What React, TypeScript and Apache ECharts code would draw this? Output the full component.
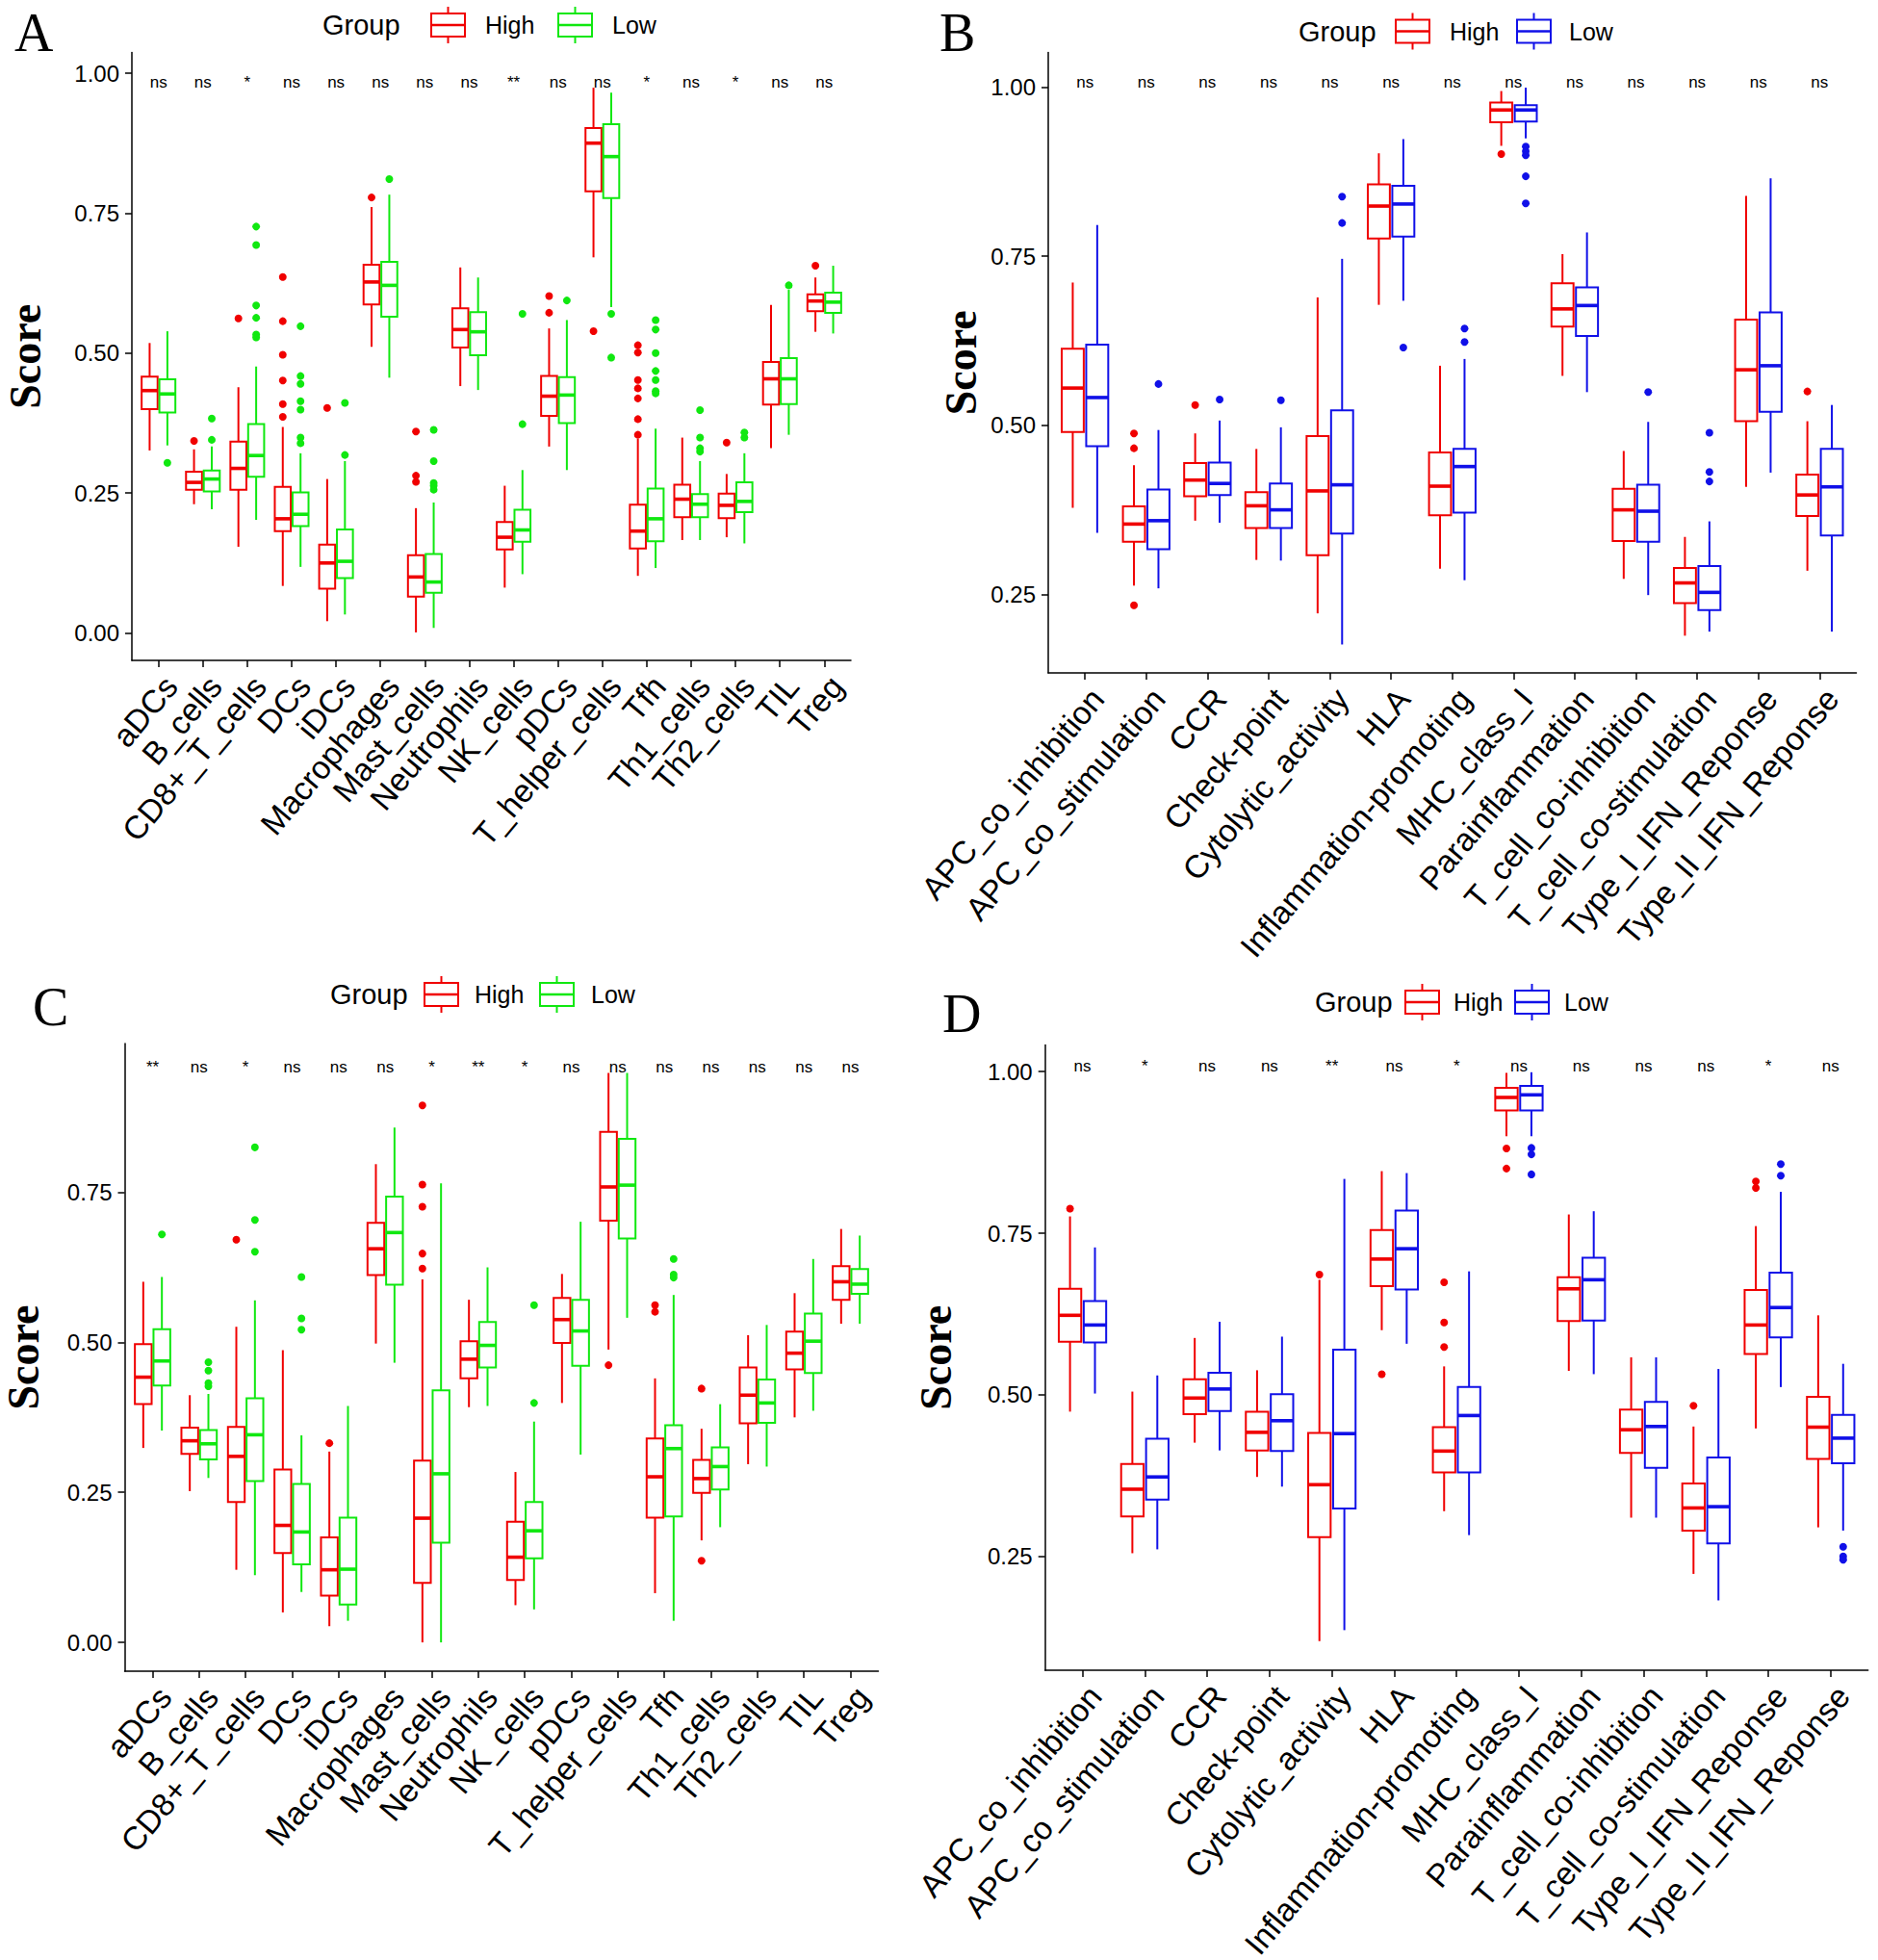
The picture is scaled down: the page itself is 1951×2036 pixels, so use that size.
import React, { useEffect, useRef } from "react";
import * as echarts from "echarts";

// ---------------- categories ----------------
const cellTypes = ["aDCs", "B_cells", "CD8+_T_cells", "DCs", "iDCs", "Macrophages", "Mast_cells", "Neutrophils", "NK_cells", "pDCs", "T_helper_cells", "Tfh", "Th1_cells", "Th2_cells", "TIL", "Treg"];
const functionTypes = ["APC_co_inhibition", "APC_co_stimulation", "CCR", "Check-point", "Cytolytic_activity", "HLA", "Inflammation-promoting", "MHC_class_I", "Parainflammation", "T_cell_co-inhibition", "T_cell_co-stimulation", "Type_I_IFN_Reponse", "Type_II_IFN_Reponse"];

// box rows: [lower whisker, Q1, median, Q3, upper whisker]
// ---------------- panel A ----------------
const aHigh = [
  [0.326, 0.400, 0.433, 0.458, 0.518], [0.230, 0.256, 0.269, 0.288, 0.328], [0.154, 0.256, 0.294, 0.342, 0.439],
  [0.084, 0.182, 0.204, 0.261, 0.368], [0.021, 0.079, 0.125, 0.158, 0.275], [0.511, 0.587, 0.627, 0.658, 0.761],
  [0.001, 0.065, 0.100, 0.139, 0.223], [0.441, 0.510, 0.542, 0.580, 0.653], [0.081, 0.149, 0.171, 0.198, 0.263],
  [0.333, 0.388, 0.423, 0.459, 0.544], [0.671, 0.789, 0.875, 0.902, 0.974], [0.102, 0.151, 0.182, 0.229, 0.347],
  [0.166, 0.207, 0.239, 0.265, 0.349], [0.171, 0.205, 0.228, 0.249, 0.284], [0.330, 0.408, 0.454, 0.484, 0.586],
  [0.538, 0.575, 0.593, 0.605, 0.635],
];
const aLow = [
  [0.335, 0.394, 0.427, 0.453, 0.539], [0.221, 0.253, 0.275, 0.290, 0.333], [0.202, 0.279, 0.317, 0.373, 0.476],
  [0.118, 0.191, 0.212, 0.251, 0.321], [0.033, 0.098, 0.128, 0.185, 0.307], [0.456, 0.565, 0.621, 0.663, 0.783],
  [0.009, 0.072, 0.091, 0.141, 0.233], [0.434, 0.496, 0.538, 0.573, 0.635], [0.105, 0.163, 0.184, 0.220, 0.291],
  [0.291, 0.375, 0.425, 0.457, 0.559], [0.582, 0.777, 0.851, 0.909, 0.965], [0.116, 0.164, 0.204, 0.258, 0.365],
  [0.166, 0.207, 0.230, 0.248, 0.307], [0.160, 0.216, 0.235, 0.269, 0.321], [0.354, 0.409, 0.454, 0.491, 0.613],
  [0.535, 0.572, 0.591, 0.608, 0.656],
];
const aHighOut = [
  [], [0.343], [0.562], [0.636, 0.557, 0.497, 0.451, 0.409, 0.386], [0.402], [0.778], [0.360, 0.281, 0.270], [], [],
  [0.602, 0.572], [0.539], [0.514, 0.501, 0.452, 0.437, 0.419, 0.382, 0.354], [], [0.340], [], [0.656],
];
const aLowOut = [
  [0.304], [0.383, 0.345], [0.726, 0.693, 0.585, 0.563, 0.533, 0.528], [0.548, 0.459, 0.445, 0.414, 0.399, 0.349, 0.339],
  [0.411, 0.318], [0.811], [0.363, 0.307, 0.268, 0.263, 0.256], [], [0.570, 0.373], [0.594], [0.570, 0.492],
  [0.559, 0.542, 0.500, 0.468, 0.452, 0.432, 0.428], [0.398, 0.349, 0.330, 0.324], [0.358, 0.349], [0.621], [],
];
const aSig = ["ns", "ns", "*", "ns", "ns", "ns", "ns", "ns", "**", "ns", "ns", "*", "ns", "*", "ns", "ns"];

// ---------------- panel B ----------------
const bHigh = [
  [0.378, 0.490, 0.555, 0.613, 0.711], [0.263, 0.328, 0.354, 0.380, 0.441], [0.359, 0.395, 0.419, 0.444, 0.488],
  [0.301, 0.348, 0.381, 0.401, 0.465], [0.222, 0.308, 0.403, 0.484, 0.689], [0.678, 0.776, 0.824, 0.856, 0.902],
  [0.288, 0.367, 0.410, 0.460, 0.588], [0.913, 0.948, 0.966, 0.977, 0.994], [0.573, 0.646, 0.672, 0.710, 0.753],
  [0.273, 0.329, 0.375, 0.406, 0.462], [0.189, 0.237, 0.267, 0.289, 0.335], [0.409, 0.506, 0.582, 0.656, 0.839],
  [0.285, 0.366, 0.397, 0.427, 0.506],
];
const bLow = [
  [0.341, 0.469, 0.541, 0.619, 0.796], [0.259, 0.317, 0.359, 0.405, 0.493], [0.356, 0.397, 0.414, 0.445, 0.507],
  [0.300, 0.348, 0.375, 0.414, 0.497], [0.176, 0.340, 0.412, 0.522, 0.746], [0.684, 0.779, 0.827, 0.854, 0.923],
  [0.271, 0.371, 0.439, 0.465, 0.598], [0.924, 0.949, 0.966, 0.973, 0.999], [0.549, 0.632, 0.677, 0.704, 0.785],
  [0.249, 0.328, 0.373, 0.412, 0.505], [0.195, 0.227, 0.253, 0.292, 0.358], [0.430, 0.520, 0.588, 0.667, 0.865],
  [0.195, 0.337, 0.409, 0.465, 0.530],
];
const bHighOut = [[], [0.488, 0.466, 0.234], [0.530], [], [], [], [], [0.901], [], [], [], [], [0.550]];
const bLowOut = [[], [0.561], [0.538], [0.537], [0.838, 0.799], [0.615], [0.643, 0.623], [0.912, 0.905, 0.899, 0.868, 0.828], [], [0.549], [0.489, 0.431, 0.417], [], []];
const bSig = ["ns", "ns", "ns", "ns", "ns", "ns", "ns", "ns", "ns", "ns", "ns", "ns", "ns"];

// ---------------- panel C ----------------
const cHigh = [
  [0.324, 0.397, 0.442, 0.497, 0.601], [0.252, 0.314, 0.336, 0.358, 0.412], [0.121, 0.234, 0.310, 0.359, 0.526],
  [0.050, 0.149, 0.195, 0.288, 0.487], [0.027, 0.078, 0.121, 0.175, 0.318], [0.498, 0.612, 0.656, 0.699, 0.797],
  [0.000, 0.099, 0.207, 0.303, 0.605], [0.392, 0.440, 0.472, 0.502, 0.571], [0.062, 0.104, 0.142, 0.201, 0.284],
  [0.399, 0.499, 0.538, 0.574, 0.614], [0.488, 0.703, 0.759, 0.851, 0.949], [0.082, 0.208, 0.276, 0.340, 0.440],
  [0.170, 0.249, 0.273, 0.304, 0.356], [0.297, 0.365, 0.412, 0.458, 0.512], [0.375, 0.455, 0.482, 0.518, 0.582],
  [0.531, 0.571, 0.601, 0.627, 0.689],
];
const cLow = [
  [0.353, 0.428, 0.469, 0.522, 0.609], [0.274, 0.305, 0.331, 0.354, 0.414], [0.112, 0.269, 0.346, 0.407, 0.570],
  [0.084, 0.130, 0.184, 0.264, 0.345], [0.036, 0.063, 0.122, 0.208, 0.394], [0.466, 0.596, 0.683, 0.743, 0.858],
  [0.000, 0.166, 0.281, 0.420, 0.765], [0.394, 0.458, 0.495, 0.534, 0.625], [0.055, 0.140, 0.186, 0.234, 0.368],
  [0.313, 0.461, 0.519, 0.571, 0.701], [0.541, 0.673, 0.762, 0.839, 0.949], [0.036, 0.210, 0.323, 0.362, 0.579],
  [0.192, 0.255, 0.293, 0.325, 0.397], [0.293, 0.366, 0.399, 0.438, 0.529], [0.386, 0.449, 0.502, 0.548, 0.639],
  [0.531, 0.581, 0.597, 0.622, 0.678],
];
const cHighOut = [[], [], [0.671], [], [0.332], [], [0.895, 0.763, 0.726, 0.648, 0.623], [], [], [], [0.462], [0.562, 0.551], [0.423, 0.136], [], [], []];
const cLowOut = [[0.680], [0.467, 0.453, 0.432, 0.427], [0.825, 0.704, 0.651], [0.609, 0.540, 0.521], [], [], [], [], [0.562, 0.399], [], [], [0.639, 0.613, 0.608], [], [], [], []];
const cSig = ["**", "ns", "*", "ns", "ns", "ns", "*", "**", "*", "ns", "ns", "ns", "ns", "ns", "ns", "ns"];

// ---------------- panel D ----------------
const dHigh = [
  [0.474, 0.582, 0.623, 0.664, 0.776], [0.255, 0.312, 0.354, 0.393, 0.505], [0.426, 0.470, 0.495, 0.524, 0.588],
  [0.373, 0.414, 0.442, 0.474, 0.538], [0.119, 0.280, 0.361, 0.441, 0.678], [0.600, 0.668, 0.710, 0.755, 0.846],
  [0.320, 0.380, 0.413, 0.450, 0.544], [0.900, 0.940, 0.960, 0.975, 0.998], [0.537, 0.614, 0.664, 0.682, 0.779],
  [0.310, 0.410, 0.446, 0.477, 0.558], [0.223, 0.290, 0.325, 0.363, 0.451], [0.448, 0.563, 0.608, 0.662, 0.761],
  [0.295, 0.401, 0.450, 0.497, 0.623],
];
const dLow = [
  [0.502, 0.581, 0.608, 0.645, 0.728], [0.261, 0.338, 0.373, 0.432, 0.530], [0.414, 0.475, 0.509, 0.534, 0.613],
  [0.358, 0.413, 0.460, 0.501, 0.590], [0.136, 0.324, 0.440, 0.570, 0.834], [0.579, 0.663, 0.726, 0.785, 0.843],
  [0.283, 0.380, 0.468, 0.512, 0.691], [0.900, 0.940, 0.964, 0.978, 0.999], [0.532, 0.615, 0.678, 0.712, 0.784],
  [0.310, 0.387, 0.451, 0.489, 0.558], [0.182, 0.270, 0.327, 0.403, 0.540], [0.512, 0.589, 0.635, 0.689, 0.814],
  [0.290, 0.394, 0.433, 0.469, 0.548],
];
const dHighOut = [[0.788], [], [], [], [0.686], [0.532], [0.674, 0.612, 0.574], [0.881, 0.850], [], [], [0.483], [0.830, 0.820], []];
const dLowOut = [[], [], [], [], [], [], [], [0.882, 0.872, 0.841], [], [], [], [0.857, 0.839], [0.265, 0.250, 0.245]];
const dSig = ["ns", "*", "ns", "ns", "**", "ns", "*", "ns", "ns", "ns", "ns", "*", "ns"];

// ---------------- styles / layout ----------------
const RED = "#F00000";
const GREEN = "#10E810";
const BLUE = "#1010E8";
const SANS = "'Liberation Sans', Arial, Helvetica, sans-serif";
const SERIF = "'Liberation Serif', 'Times New Roman', serif";
const DODGE = 0.2;
const BOX_W = 0.36;

const layouts = [
  { left: 137, top: 54.5, width: 747, height: 631.5, yMin: -0.049, yMax: 1.037, yTicks: [0, 0.25, 0.5, 0.75, 1], nameGap: 88, sigY: 0.984, letter: "A", lx: 15, ly: 34, lgY: 26, lg: [335, 448, 504, 580, 636] },
  { left: 1089, top: 54.5, width: 839.5, height: 644.5, yMin: 0.134, yMax: 1.051, yTicks: [0.25, 0.5, 0.75, 1], nameGap: 68, sigY: 1.007, letter: "B", lx: 976, ly: 34, lgY: 32.5, lg: [1349, 1450, 1506, 1576, 1630] },
  { left: 129.5, top: 1084, width: 783, height: 652, yMin: -0.048, yMax: 0.998, yTicks: [0, 0.25, 0.5, 0.75], nameGap: 82, sigY: 0.959, letter: "C", lx: 34, ly: 1046, lgY: 1033, lg: [343, 441, 493, 561, 614] },
  { left: 1085.7, top: 1085.6, width: 855, height: 649.4, yMin: 0.074, yMax: 1.041, yTicks: [0.25, 0.5, 0.75, 1], nameGap: 90, sigY: 1.008, letter: "D", lx: 979, ly: 1053, lgY: 1041, lg: [1366, 1460, 1510, 1574, 1625] },
];

const panels = [
  { cats: cellTypes, high: aHigh, low: aLow, highOut: aHighOut, lowOut: aLowOut, sig: aSig, lowColor: GREEN },
  { cats: functionTypes, high: bHigh, low: bLow, highOut: bHighOut, lowOut: bLowOut, sig: bSig, lowColor: BLUE },
  { cats: cellTypes, high: cHigh, low: cLow, highOut: cHighOut, lowOut: cLowOut, sig: cSig, lowColor: GREEN },
  { cats: functionTypes, high: dHigh, low: dLow, highOut: dHighOut, lowOut: dLowOut, sig: dSig, lowColor: BLUE },
];

function makeBoxRenderer(color: string) {
  return (params: any, api: any) => {
    const x = api.value(0);
    const lo = api.coord([x, api.value(1)]);
    const q1 = api.coord([x, api.value(2)]);
    const md = api.coord([x, api.value(3)]);
    const q3 = api.coord([x, api.value(4)]);
    const hi = api.coord([x, api.value(5)]);
    const w = api.size([BOX_W, 0])[0];
    const cx = md[0];
    const lw = 2;
    return {
      type: "group",
      children: [
        { type: "line", shape: { x1: cx, y1: hi[1], x2: cx, y2: q3[1] }, style: { stroke: color, lineWidth: lw } },
        { type: "line", shape: { x1: cx, y1: q1[1], x2: cx, y2: lo[1] }, style: { stroke: color, lineWidth: lw } },
        { type: "rect", shape: { x: cx - w / 2, y: q3[1], width: w, height: q1[1] - q3[1] }, style: { fill: "#ffffff", stroke: color, lineWidth: lw } },
        { type: "line", shape: { x1: cx - w / 2, y1: md[1], x2: cx + w / 2, y2: md[1] }, style: { stroke: color, lineWidth: 3.6 } },
      ],
    };
  };
}

function legendIcon(x: number, cy: number, color: string) {
  const w = 35;
  return [
    { type: "line", shape: { x1: x + w / 2, y1: cy - 19, x2: x + w / 2, y2: cy - 12 }, style: { stroke: color, lineWidth: 2 } },
    { type: "line", shape: { x1: x + w / 2, y1: cy + 12, x2: x + w / 2, y2: cy + 19 }, style: { stroke: color, lineWidth: 2 } },
    { type: "rect", shape: { x, y: cy - 12, width: w, height: 24 }, style: { fill: "#fff", stroke: color, lineWidth: 2 } },
    { type: "line", shape: { x1: x, y1: cy, x2: x + w, y2: cy }, style: { stroke: color, lineWidth: 2.5 } },
  ];
}

function buildOption() {
  const grid: any[] = [];
  const xAxis: any[] = [];
  const yAxis: any[] = [];
  const series: any[] = [];
  const elements: any[] = [];

  panels.forEach((p, k) => {
    const L = layouts[k];
    const n = p.cats.length;
    const idx = p.cats.map((_, i) => i);
    grid.push({ left: L.left, top: L.top, width: L.width, height: L.height, containLabel: false, outerBoundsMode: "none" });
    xAxis.push({
      type: "value", gridIndex: k, min: -0.6, max: n - 0.4,
      splitLine: { show: false },
      axisLine: { show: true, onZero: false, lineStyle: { color: "#000", width: 1.5 } },
      axisTick: { show: true, customValues: idx, length: 7, lineStyle: { color: "#000", width: 1.5 } },
      axisLabel: {
        customValues: idx, formatter: (v: number) => p.cats[Math.round(v)] ?? "",
        rotate: 50, align: "right", verticalAlign: "top", margin: 10,
        fontSize: 33.5, fontFamily: SANS, color: "#000",
      },
    });
    yAxis.push({
      type: "value", gridIndex: k, min: L.yMin, max: L.yMax,
      splitLine: { show: false },
      axisLine: { show: true, onZero: false, lineStyle: { color: "#000", width: 1.5 } },
      axisTick: { show: true, customValues: L.yTicks, length: 7, lineStyle: { color: "#000", width: 1.5 } },
      axisLabel: { customValues: L.yTicks, formatter: (v: number) => v.toFixed(2), margin: 13, fontSize: 24, fontFamily: SANS, color: "#000" },
      name: "Score", nameLocation: "middle", nameGap: L.nameGap,
      nameTextStyle: { fontFamily: SERIF, fontWeight: "bold", fontSize: 46, color: "#000" },
    });

    const groups: [string, number[][], number[][], string, number][] = [
      ["High", p.high, p.highOut, RED, -DODGE],
      ["Low", p.low, p.lowOut, p.lowColor, DODGE],
    ];
    groups.forEach(([name, boxes, outs, color, off]) => {
      series.push({
        type: "custom", name, xAxisIndex: k, yAxisIndex: k, coordinateSystem: "cartesian2d",
        renderItem: makeBoxRenderer(color), encode: { x: 0, y: [1, 2, 3, 4, 5] },
        data: boxes.map((b, i) => [i + off, ...b]), clip: false, silent: true, z: 2,
      });
      series.push({
        type: "scatter", name: name + " outliers", xAxisIndex: k, yAxisIndex: k,
        symbol: "circle", symbolSize: 8, itemStyle: { color, opacity: 1 },
        data: outs.flatMap((list, i) => list.map((v) => [i + off, v])), silent: true, z: 3,
      });
    });
    series.push({
      type: "custom", name: "sig", xAxisIndex: k, yAxisIndex: k, coordinateSystem: "cartesian2d",
      renderItem: (params: any, api: any) => {
        const pt = api.coord([api.value(0), api.value(1)]);
        return { type: "text", x: pt[0], y: pt[1], style: { text: p.sig[params.dataIndex], align: "center", verticalAlign: "middle", font: `17px ${SANS}`, fill: "#000" } };
      },
      data: idx.map((i) => [i, L.sigY]), silent: true, z: 4,
    });

    // panel letter
    elements.push({ type: "text", x: L.lx, y: L.ly, style: { text: L.letter, font: `56px ${SERIF}`, fill: "#000", align: "left", verticalAlign: "middle" } });
    // legend
    const [gx, i1, t1, i2, t2] = L.lg;
    elements.push({ type: "text", x: gx, y: L.lgY, style: { text: "Group", font: `29px ${SANS}`, fill: "#000", align: "left", verticalAlign: "middle" } });
    legendIcon(i1, L.lgY, RED).forEach((e) => elements.push(e));
    elements.push({ type: "text", x: t1, y: L.lgY, style: { text: "High", font: `25px ${SANS}`, fill: "#000", align: "left", verticalAlign: "middle" } });
    legendIcon(i2, L.lgY, p.lowColor).forEach((e) => elements.push(e));
    elements.push({ type: "text", x: t2, y: L.lgY, style: { text: "Low", font: `25px ${SANS}`, fill: "#000", align: "left", verticalAlign: "middle" } });
  });

  return {
    animation: false,
    backgroundColor: "#ffffff",
    textStyle: { fontFamily: SANS },
    grid, xAxis, yAxis, series,
    graphic: { elements },
  };
}

export default function App() {
  const ref = useRef<HTMLDivElement>(null);
  useEffect(() => {
    if (!ref.current) return;
    const chart = echarts.init(ref.current, undefined, { renderer: "svg" });
    chart.setOption(buildOption() as any);
    return () => chart.dispose();
  }, []);
  return <div ref={ref} style={{ position: "absolute", left: 0, top: 0, width: 1951, height: 2036, background: "#fff" }} />;
}
